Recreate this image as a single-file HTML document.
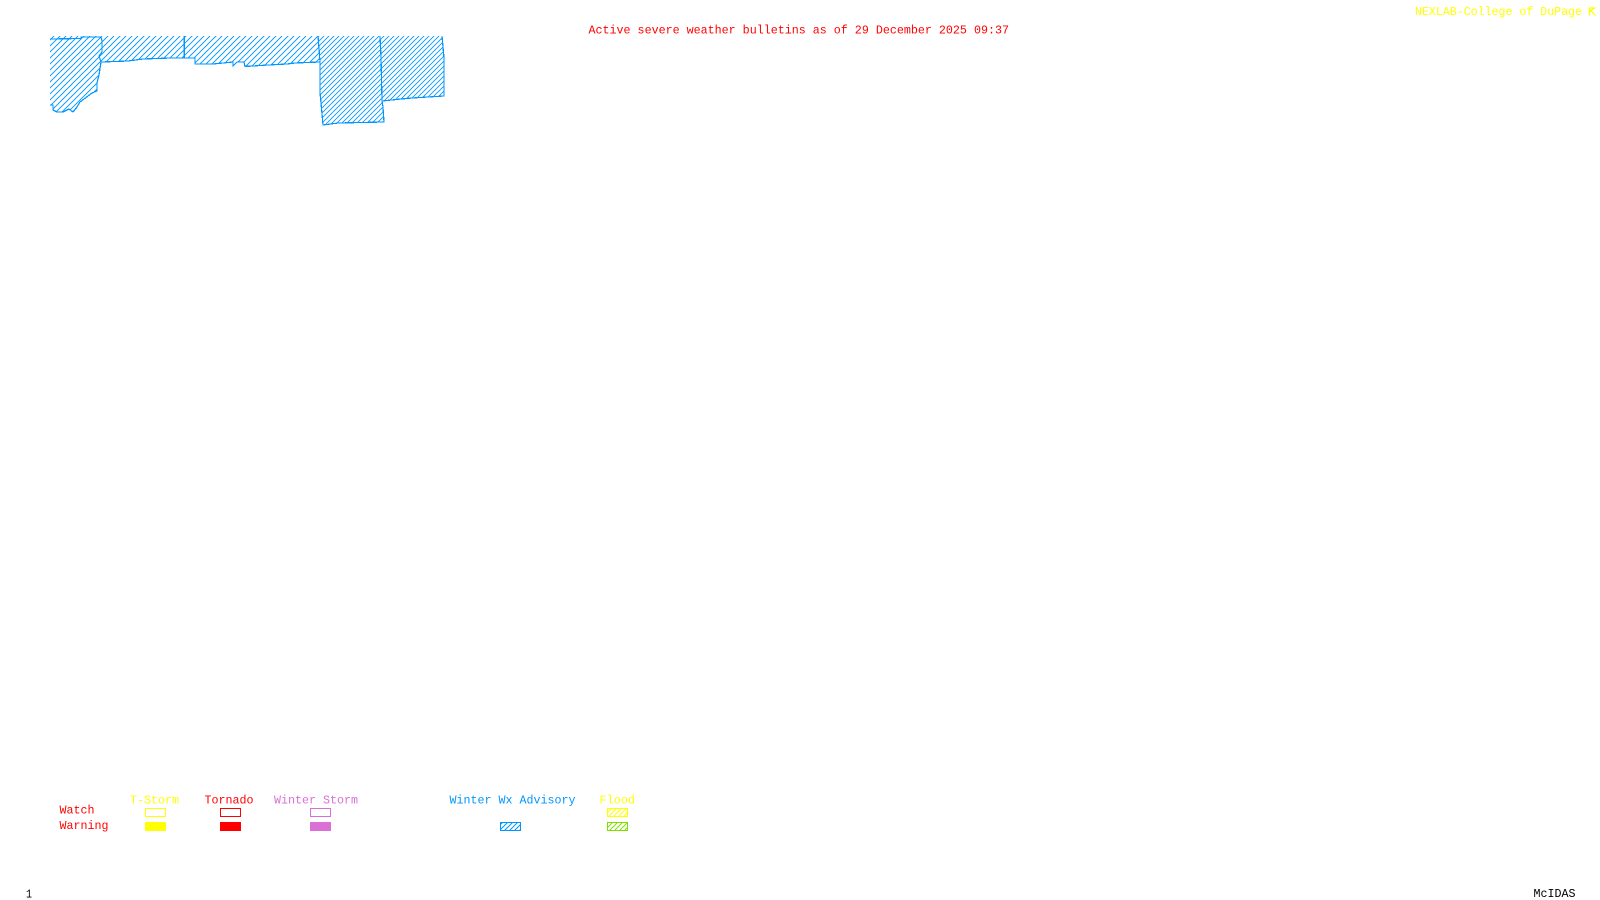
<!DOCTYPE html>
<html>
<head>
<meta charset="utf-8">
<style>
html,body{margin:0;padding:0;background:#fff;width:1600px;height:900px;overflow:hidden}
svg{display:block}
text{font-family:"Liberation Mono",monospace;font-size:12px;font-weight:400}
</style>
</head>
<body>
<svg width="1600" height="900" viewBox="0 0 1600 900" xmlns="http://www.w3.org/2000/svg">
<defs>
<pattern id="h7" patternUnits="userSpaceOnUse" width="6" height="6"><path d="M-1 7L7 -1M-1 1L1 -1M5 7L7 5" stroke="#0096ff" stroke-width="0.95"/></pattern>
<pattern id="h5" patternUnits="userSpaceOnUse" width="5" height="5"><path d="M-1 6L6 -1M-1 1L1 -1M4 6L6 4" stroke="#0096ff" stroke-width="0.85"/></pattern>
<pattern id="b4" patternUnits="userSpaceOnUse" width="5" height="5"><path d="M-1 6L6 -1M-1 1L1 -1M4 6L6 4" stroke="#0096ff" stroke-width="1"/></pattern>
<pattern id="y4" patternUnits="userSpaceOnUse" width="5" height="5"><path d="M-1 6L6 -1M-1 1L1 -1M4 6L6 4" stroke="#ffff00" stroke-width="1"/></pattern>
<pattern id="g4" patternUnits="userSpaceOnUse" width="5" height="5"><path d="M-1 6L6 -1M-1 1L1 -1M4 6L6 4" stroke="#7fdf00" stroke-width="1"/></pattern>
</defs>

<!-- hatched fill -->
<polygon fill="url(#h7)" points="50,36 318,36 320,62 295,63 287,64 268,65 245,66.5 244,62 237,62 233,66 233,62 223,63 213,64 195,64 195,58 171,58 143,59 128,61 101,62 99,75 97,83 97,91 88,96 80,102 73,112 69,109 63,112 57,112 53,110 53,105 50,105"/>
<polygon fill="url(#h5)" points="318,36 442,36 444,58 444,96 412,98 401,99 382,101 383,107 384,122 338,123 323,125 321,103 320,93 320,62"/>

<!-- outlines -->
<g fill="none" stroke="#0096ff" stroke-width="1.2" shape-rendering="crispEdges">
<polyline points="50,39 81,38.500 81,37 101,37 102,41 102,52 99,56 101,62 99,75 97,83 97,91 92,93 88,96 84,99 80,102 77,107 73,112 69,109 63,112 57,112 53,110 53,105 50,105"/>
<polyline points="101,62 128,61 143,59 171,58 195,58 195,64 213,64 223,63 233,62 233,66 237,62 244,62 245,66.500 268,65 287,64 295,63 320,62"/>
<polyline points="184.300,36 184.300,58"/>
<polyline points="318,36 320,62 320,93 321,103 323,125 338,123 384,122 383,107 382,101 401,99 412,98 444,96 444,58 442,36"/>
<polyline points="380,36 381,57 382,101"/>
</g>

<!-- header text -->
<text x="588.500" y="33.500" fill="#ff0000" textLength="420.500" lengthAdjust="spacingAndGlyphs">Active severe weather bulletins as of 29 December 2025 09:37</text>
<text x="1415" y="15" fill="#ffff00" textLength="167" lengthAdjust="spacingAndGlyphs">NEXLAB-College of DuPage</text>
<g fill="none" stroke="#ffff00" stroke-width="1.2"><path d="M1595.500 8H1589.500V15.500M1589.500 9L1595.500 15.500M1589.500 12L1594 8"/></g>

<!-- legend text -->
<text x="130" y="803.500" fill="#ffff00" textLength="49" lengthAdjust="spacingAndGlyphs">T-Storm</text>
<text x="204.500" y="803.500" fill="#ff0000" textLength="49" lengthAdjust="spacingAndGlyphs">Tornado</text>
<text x="274" y="803.500" fill="#da70d6" textLength="84" lengthAdjust="spacingAndGlyphs">Winter Storm</text>
<text x="449.500" y="803.500" fill="#0096ff" textLength="126" lengthAdjust="spacingAndGlyphs">Winter Wx Advisory</text>
<text x="599.500" y="803.500" fill="#ffff00" textLength="35.500" lengthAdjust="spacingAndGlyphs">Flood</text>
<text x="59.500" y="813.500" fill="#ff0000" textLength="35" lengthAdjust="spacingAndGlyphs">Watch</text>
<text x="59.500" y="829" fill="#ff0000" textLength="49" lengthAdjust="spacingAndGlyphs">Warning</text>

<!-- legend swatches -->
<g shape-rendering="crispEdges" fill="none" stroke-width="1">
<rect x="145.500" y="808.500" width="20" height="8" stroke="#ffff00"/>
<rect x="220.500" y="808.500" width="20" height="8" stroke="#ff0000"/>
<rect x="310.500" y="808.500" width="20" height="8" stroke="#da70d6"/>
<rect x="607.500" y="808.500" width="20" height="8" stroke="#ffff00" fill="url(#y4)"/>
<rect x="500.500" y="822.500" width="20" height="8" stroke="#0096ff" fill="url(#b4)"/>
<rect x="607.500" y="822.500" width="20" height="8" stroke="#7fdf00" fill="url(#g4)"/>
</g>
<rect x="145" y="822" width="21" height="9" fill="#ffff00"/>
<rect x="220" y="822" width="21" height="9" fill="#ff0000"/>
<rect x="310" y="822" width="21" height="9" fill="#da70d6"/>

<!-- footer -->
<text x="26" y="897.500" fill="#000" textLength="6" lengthAdjust="spacingAndGlyphs">1</text>
<text x="1533.500" y="897" fill="#000" textLength="42" lengthAdjust="spacingAndGlyphs">McIDAS</text>
</svg>
</body>
</html>
